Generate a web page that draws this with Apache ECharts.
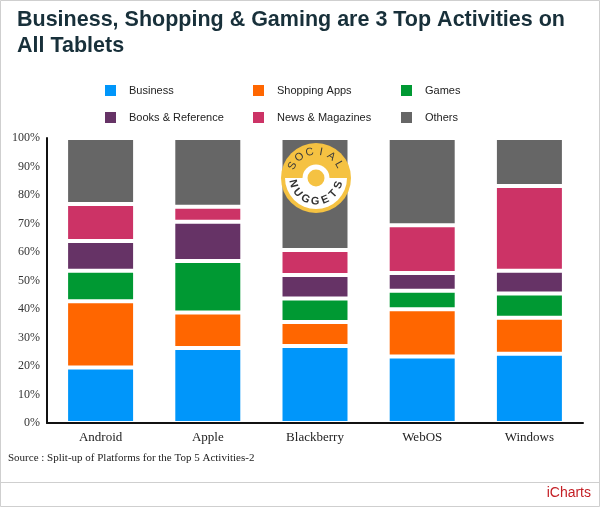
<!DOCTYPE html>
<html>
<head>
<meta charset="utf-8">
<script src="https://cdn.jsdelivr.net/npm/echarts@6/dist/echarts.min.js"></script>
<style>
  html, body { margin: 0; padding: 0; background: #fff; }
  #chart { width: 600px; height: 507px; }
</style>
</head>
<body>
<div id="chart"></div>
<script>
// platforms
const categories = ['Android', 'Apple', 'Blackberry', 'WebOS', 'Windows'];
// share of each activity per platform, in %
const business = [19.5, 26.3, 27.0, 23.3, 24.3];
const shopping = [23.2, 12.5, 8.4, 16.6, 12.6];
const games = [10.7, 18.0, 8.3, 6.5, 8.5];
const books = [10.5, 13.8, 8.2, 6.2, 8.0];
const news = [12.9, 5.3, 8.8, 16.8, 29.8];
const others = [23.2, 24.1, 39.3, 30.6, 16.8];
const seriesNames = ['Business', 'Shopping Apps', 'Games', 'Books & Reference', 'News & Magazines', 'Others'];
const colors = ['#0096fa', '#ff6600', '#009933', '#663366', '#cc3366', '#666666'];
const yTicks = [0, 10, 20, 30, 40, 50, 60, 70, 80, 90, 100];

const seriesData = [business, shopping, games, books, news, others];

let myChart = echarts.init(document.getElementById('chart'));

// legend: 3 columns x 2 rows
const legendCols = [103, 251, 399];
const legendRows = [83, 110];
const legends = seriesNames.map(function (name, i) {
  return {
    data: [name],
    left: legendCols[i % 3],
    top: legendRows[Math.floor(i / 3)],
    padding: 0,
    icon: 'rect',
    itemWidth: 13,
    itemHeight: 13,
    selectedMode: false,
    textStyle: { fontFamily: 'Liberation Sans', fontSize: 11, color: '#222', padding: [0, 0, 0, 7] }
  };
});

// badge pieces (drawn over the Blackberry bar)
const BADGE_Z = 100;
const badgeParts = [
  { type: 'circle', shape: { cx: 0, cy: 0, r: 35 }, style: { fill: '#f5c242' } },
  { type: 'sector', shape: { cx: 0, cy: 0, r0: 0, r: 31, startAngle: 0, endAngle: Math.PI, clockwise: true }, style: { fill: '#fff' } },
  { type: 'circle', shape: { cx: 0, cy: 0, r: 13.5 }, style: { fill: '#fff' } },
  { type: 'circle', shape: { cx: 0, cy: 0, r: 8.5 }, style: { fill: '#f5c242' } }
];
const upperWord = 'SOCIAL';
for (let i = 0; i < upperWord.length; i++) {
  const a = (-153 + i * 24.6) * Math.PI / 180;
  badgeParts.push({
    type: 'text',
    x: 26.5 * Math.cos(a), y: 26.5 * Math.sin(a),
    rotation: -(a + Math.PI / 2),
    style: { text: upperWord[i], fill: '#3a3a3a', font: '11px "Liberation Sans"', align: 'center', verticalAlign: 'middle' }
  });
}
const lowerWord = 'NUGGETS';
for (let i = 0; i < lowerWord.length; i++) {
  const a = (166 - i * 24.7) * Math.PI / 180;
  badgeParts.push({
    type: 'text',
    x: 23.5 * Math.cos(a), y: 23.5 * Math.sin(a),
    rotation: Math.PI / 2 - a,
    style: { text: lowerWord[i], fill: '#333', font: 'bold 11px "Liberation Sans"', align: 'center', verticalAlign: 'middle' }
  });
}
badgeParts.forEach(function (p, i) { p.z = BADGE_Z + i; });

myChart.setOption({
  animation: false,
  backgroundColor: '#fff',
  color: colors,
  title: {
    text: 'Business, Shopping & Gaming are 3 Top Activities on\nAll Tablets',
    left: 17,
    top: 7,
    padding: 0,
    textStyle: { fontFamily: 'Liberation Sans', fontWeight: 'bold', fontSize: 21.5, lineHeight: 26, color: '#18303a' }
  },
  legend: legends,
  grid: { left: 47, right: 17, top: 138, bottom: 84, containLabel: false },
  xAxis: {
    type: 'category',
    data: categories,
    z: 5,
    axisLine: { lineStyle: { color: '#111', width: 2 } },
    axisTick: { show: false },
    axisLabel: { fontFamily: 'Liberation Serif', fontSize: 13, color: '#222', margin: 8 }
  },
  yAxis: {
    type: 'value',
    min: yTicks[0],
    max: yTicks[yTicks.length - 1],
    interval: 10,
    z: 5,
    axisLine: { show: true, lineStyle: { color: '#111', width: 2 } },
    axisTick: { show: false },
    splitLine: { show: false },
    axisLabel: { formatter: '{value}%', fontFamily: 'Liberation Serif', fontSize: 12, color: '#333', margin: 7 }
  },
  series: seriesNames.map(function (name, i) {
    return {
      name: name,
      type: 'bar',
      stack: 'all',
      barWidth: 69,
      data: seriesData[i],
      itemStyle: { color: colors[i], borderColor: '#fff', borderWidth: 2 }
    };
  }),
  graphic: [
    // frame
    { type: 'rect', shape: { x: 0.5, y: 0.5, width: 599, height: 506 }, style: { fill: 'none', stroke: '#cfcfcf', lineWidth: 1 }, z: 100 },
    { type: 'line', shape: { x1: 0, y1: 482.5, x2: 600, y2: 482.5 }, style: { stroke: '#cfcfcf', lineWidth: 1 }, z: 100 },
    {
      type: 'text', left: 8, top: 453,
      style: { text: 'Source : Split-up of Platforms for the Top 5 Activities-2', font: '11px "Liberation Serif"', fill: '#222' }
    },
    {
      type: 'text', right: 9, top: 486,
      style: { text: 'iCharts', font: '14px "Liberation Sans"', fill: '#c41e24' }
    },
    { type: 'group', x: 316, y: 178, z: BADGE_Z, children: badgeParts }
  ]
});
</script>
</body>
</html>
